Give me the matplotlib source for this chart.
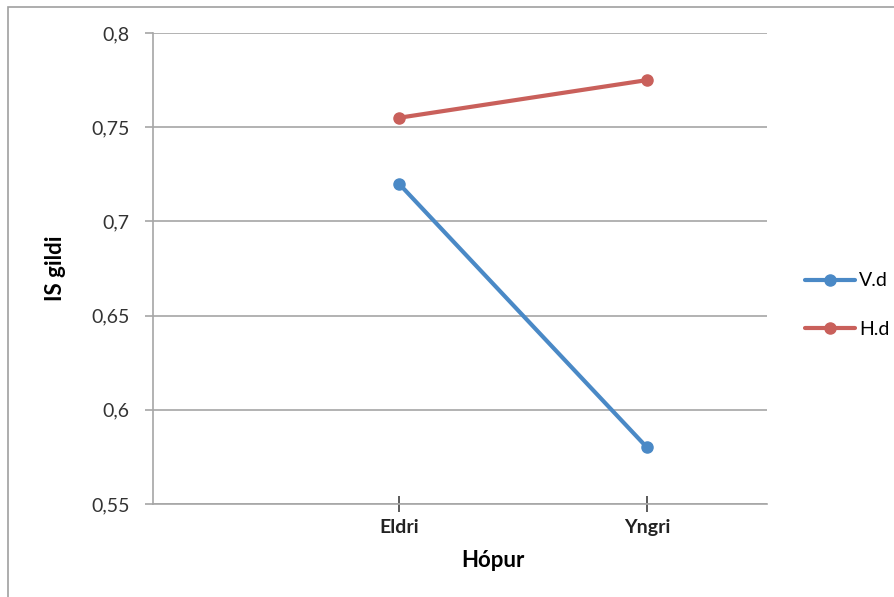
import matplotlib
matplotlib.use("Agg")
import matplotlib.pyplot as plt
from matplotlib.patches import Rectangle
from matplotlib.ticker import FuncFormatter

categories = ["Eldri", "Yngri"]
vd_values = [0.72, 0.58]
hd_values = [0.755, 0.775]
series_names = ["V.d", "H.d"]
y_ticks = [0.55, 0.6, 0.65, 0.7, 0.75, 0.8]

BLUE = "#4A89C6"
RED = "#C9605B"
GRID = "#a6a6a6"

plt.rcParams["font.family"] = ["Lato", "DejaVu Sans"]

W, H = 895, 597
fig = plt.figure(figsize=(W / 100, H / 100), dpi=100)

# outer chart frame (runs off the right and bottom edges)
fig.patches.append(Rectangle((8 / W, -0.1), 1.2, (H - 7) / H + 0.1,
                             transform=fig.transFigure, fill=False,
                             edgecolor="#a0a0a0", linewidth=1.2))

left, right, top, bottom = 153, 767, 33, 504
ax = fig.add_axes([left / W, 1 - bottom / H, (right - left) / W, (bottom - top) / H])

x = [1, 2]
ax.plot(x, vd_values, color=BLUE, linewidth=3, marker="o", markersize=8,
        label=series_names[0], solid_capstyle="round")
ax.plot(x, hd_values, color=RED, linewidth=3, marker="o", markersize=8,
        label=series_names[1], solid_capstyle="round")

ax.set_xlim(1 - 246 / 248, 2 + 120 / 248)
ax.set_ylim(0.55, 0.8)
ax.set_yticks(y_ticks)
ax.yaxis.set_major_formatter(FuncFormatter(lambda v, p: f"{v:.2f}".rstrip("0").replace(".", ",")))
ax.set_xticks(x)
ax.set_xticklabels(categories, fontweight="bold")

ax.grid(axis="y", color=GRID, linewidth=1.2)
ax.set_axisbelow(True)
for s in ["top", "right"]:
    ax.spines[s].set_visible(False)
ax.spines["left"].set_color(GRID)
ax.spines["bottom"].set_color(GRID)
ax.spines["left"].set_linewidth(1.2)
ax.spines["bottom"].set_linewidth(1.2)

ax.tick_params(axis="y", length=6, width=1.2, color=GRID, pad=11,
               labelsize=14, labelcolor="#333333")
ax.tick_params(axis="x", direction="inout", length=12, width=1.2,
               color="#404040", pad=5, labelsize=14, labelcolor="#222222")

ax.set_ylabel("IS gildi", fontsize=16, fontweight="bold")
ax.yaxis.set_label_coords((66 - left) / (right - left), 0.5)
ax.set_xlabel("Hópur", fontsize=16, fontweight="bold")
ax.xaxis.set_label_coords((493 - left) / (right - left), (bottom - 550) / (bottom - top))

leg = ax.legend(loc="center left", bbox_to_anchor=((797 - left) / (right - left), (bottom - 305) / (bottom - top)),
                frameon=False, fontsize=14, handlelength=2.6, handletextpad=0.2,
                labelspacing=1.6, borderaxespad=0)

fig.savefig("out.png", dpi=100)
